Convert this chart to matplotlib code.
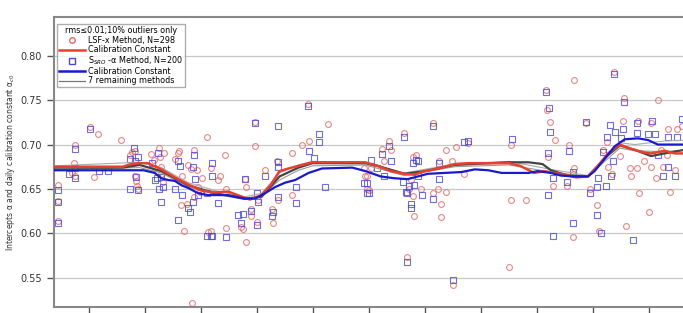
import matplotlib.pyplot as plt
from matplotlib.lines import Line2D

# LSF-x method intercepts (red circles)
lsf_x = [0.02, 0.15, 0.56, -0.25, -0.56, -0.56, -0.56, -0.27, -0.25, 0.09, -0.30,
         0.72, 0.77, 0.81, 0.82, 0.84, 0.86, 0.88,
         1.11, 1.15, 1.17, 1.24, 1.26, 1.29, 1.28, 1.32, 1.34,
         1.53, 1.58, 1.60, 1.64, 1.66, 1.70, 1.74, 1.77, 1.82, 1.87, 1.92, 1.88, 1.95, 2.01,
         2.10, 1.83, 2.12, 1.98,
         2.18, 2.18, 2.30, 2.33, 2.42, 2.45, 2.45, 2.72, 2.75, 2.78, 2.81, 2.81, 2.89, 2.89,
         2.96, 2.96, 2.99, 3.02, 3.14, 3.27, 3.29, 3.35, 3.38, 3.62, 3.62, 3.80, 3.92, 3.91,
         4.27, 4.91, 4.93, 5.00,
         4.97, 4.97, 5.03, 5.24, 5.26, 5.36, 5.39, 5.63, 5.68, 5.72, 5.75, 5.78, 5.79, 5.81,
         5.84, 5.93, 6.14, 6.14, 6.23, 6.25, 6.28, 6.28, 6.38, 6.38, 6.49, 6.50, 6.56, 6.70,
         6.77, 7.50, 7.54, 7.54, 7.81,
         8.16, 8.18, 8.23, 8.20, 8.32, 8.29, 8.58, 8.53, 8.65, 8.67, 8.67, 8.88, 8.95, 9.07,
         9.11, 9.18, 9.26, 9.27, 9.34, 9.38, 9.48, 9.53, 9.56, 9.60, 9.66, 9.68, 9.78, 9.80,
         9.82, 9.92, 10.01, 10.04, 10.04, 10.12, 10.16, 10.22, 10.25, 10.33, 10.34, 10.37,
         10.47, 10.50, 10.59, 10.68, 8.65]
lsf_y = [0.720, 0.712, 0.705, 0.700, 0.654, 0.636, 0.614, 0.679, 0.665, 0.663, 0.668,
         0.688, 0.692, 0.693, 0.664, 0.659, 0.653, 0.650,
         0.689, 0.683, 0.673, 0.696, 0.686, 0.675, 0.667, 0.658, 0.690,
         0.684, 0.690, 0.693, 0.632, 0.665, 0.603, 0.633, 0.677, 0.672, 0.694, 0.671, 0.641, 0.652, 0.662,
         0.709, 0.521, 0.601, 0.647,
         0.674, 0.602, 0.660, 0.664, 0.688, 0.650, 0.606, 0.607, 0.605, 0.661, 0.652, 0.590, 0.627, 0.619,
         0.726, 0.698, 0.613, 0.637, 0.671, 0.627, 0.611, 0.682, 0.638, 0.691, 0.643, 0.699, 0.704, 0.746,
         0.723, 0.674, 0.665, 0.649,
         0.665, 0.650, 0.673, 0.695, 0.682, 0.704, 0.694, 0.713, 0.573, 0.650, 0.660, 0.686, 0.642, 0.619,
         0.688, 0.650, 0.724, 0.645, 0.650, 0.682, 0.633, 0.618, 0.647, 0.694, 0.682, 0.542, 0.697, 0.667,
         0.702, 0.562, 0.637, 0.699, 0.638,
         0.761, 0.739, 0.726, 0.686, 0.705, 0.653, 0.700, 0.653, 0.596, 0.773, 0.673, 0.724, 0.650, 0.632,
         0.603, 0.694, 0.703, 0.675, 0.667, 0.782, 0.687, 0.727, 0.752, 0.608, 0.673, 0.664, 0.673, 0.727,
         0.645, 0.682, 0.624, 0.675, 0.724, 0.662, 0.750, 0.694, 0.675, 0.688, 0.718, 0.647,
         0.671, 0.718, 0.721, 0.667, 0.667]

# S_SRO-alpha method intercepts (blue squares)
sro_x = [0.02, -0.25, -0.56, -0.56, -0.56, -0.37, -0.25, -0.25, 0.18, 0.33,
         0.72, 0.73, 0.80, 0.81, 0.83, 0.87, 0.88,
         1.12, 1.17, 1.21, 1.23, 1.24, 1.29, 1.29, 1.32,
         1.53, 1.59, 1.62, 1.65, 1.58, 1.77, 1.80, 1.86, 1.86, 1.88, 1.89,
         2.10, 2.19, 2.19, 2.19, 1.95, 2.10,
         2.18, 2.30, 2.45, 2.66, 2.75, 2.72, 2.78, 2.89, 2.99, 3.02, 2.96, 2.99, 3.14, 3.27,
         3.29, 3.37, 3.37, 3.38, 3.38, 3.69, 3.69, 3.91, 3.92, 4.01, 4.10, 4.10, 4.21, 4.91,
         5.00, 5.03,
         4.97, 4.97, 5.15, 5.24, 5.26, 5.36, 5.39, 5.60, 5.63, 5.66, 5.68, 5.72, 5.75, 5.75,
         5.78, 5.81, 5.84, 5.87, 5.87, 5.95, 6.14, 6.14, 6.25, 6.25, 6.50, 6.70, 6.77, 7.55,
         5.68,
         8.16, 8.22, 8.23, 8.20, 8.20, 8.29, 8.29, 8.53, 8.58, 8.65, 8.65, 8.88, 8.95, 9.07,
         9.07, 9.09, 9.14, 9.18, 9.24, 9.26, 9.30, 9.32, 9.36, 9.40, 9.38, 9.51, 9.54, 9.56,
         9.72, 9.78, 9.79, 9.98, 10.06, 10.11, 10.16, 10.25, 10.34, 10.35, 10.47, 10.50, 10.59]
sro_y = [0.718, 0.695, 0.649, 0.635, 0.612, 0.667, 0.674, 0.662, 0.670, 0.670,
         0.684, 0.650, 0.696, 0.682, 0.663, 0.649, 0.686,
         0.679, 0.660, 0.662, 0.691, 0.650, 0.635, 0.663, 0.652,
         0.650, 0.682, 0.676, 0.643, 0.615, 0.628, 0.624, 0.635, 0.675, 0.688, 0.661,
         0.597, 0.597, 0.679, 0.665, 0.643, 0.645,
         0.597, 0.634, 0.596, 0.620, 0.622, 0.611, 0.661, 0.625, 0.609, 0.635, 0.724, 0.645, 0.665, 0.619,
         0.624, 0.721, 0.680, 0.675, 0.641, 0.652, 0.634, 0.744, 0.693, 0.685, 0.712, 0.703, 0.652, 0.657,
         0.645, 0.683,
         0.657, 0.645, 0.673, 0.689, 0.665, 0.698, 0.682, 0.658, 0.709, 0.647, 0.645, 0.653, 0.633, 0.628,
         0.679, 0.654, 0.683, 0.682, 0.664, 0.643, 0.721, 0.639, 0.661, 0.679, 0.547, 0.703, 0.704, 0.706,
         0.568,
         0.759, 0.741, 0.714, 0.691, 0.643, 0.662, 0.597, 0.658, 0.693, 0.612, 0.669, 0.726, 0.645, 0.652,
         0.620, 0.662, 0.600, 0.692, 0.653, 0.709, 0.722, 0.664, 0.682, 0.714, 0.780, 0.707, 0.717, 0.748,
         0.592, 0.724, 0.713, 0.712, 0.727, 0.712, 0.688, 0.665, 0.709, 0.675, 0.665, 0.708, 0.729]

# calibration constants
red_x = [-0.63, 0.6, 0.75, 0.9, 1.05, 1.29, 1.53, 1.77, 2.01, 2.25, 2.48, 2.78, 2.87, 3.08, 3.25,
         3.40, 3.56, 3.74, 3.99, 4.22, 4.93, 5.04, 5.15, 5.39, 5.63, 5.81, 5.99, 6.17, 6.53, 6.77,
         7.5, 7.7, 7.95, 8.13, 8.4, 8.7, 8.91, 9.09, 9.27, 9.48, 9.69, 9.92, 10.04, 10.28, 10.47, 10.72]
red_y = [0.675, 0.675, 0.678, 0.679, 0.679, 0.672, 0.663, 0.655, 0.648, 0.646, 0.647, 0.640, 0.638, 0.643, 0.655,
         0.670, 0.673, 0.676, 0.680, 0.680, 0.680, 0.678, 0.676, 0.670, 0.667, 0.666, 0.670, 0.672, 0.678, 0.679,
         0.679, 0.676, 0.668, 0.670, 0.667, 0.663, 0.664, 0.676, 0.690, 0.700, 0.695, 0.691, 0.690, 0.693, 0.690, 0.690]

blue_x = [-0.63, 0.97, 1.17, 1.29, 1.41, 1.53, 1.65, 1.77, 1.95, 2.12, 2.48, 2.78, 2.96, 3.14, 3.32,
          3.50, 3.68, 3.92, 4.16, 4.70, 4.94, 5.21, 5.45, 5.69, 5.87, 6.05, 6.35, 6.65, 6.89, 7.13,
          7.37, 7.85, 8.01, 8.25, 8.43, 8.67, 8.91, 9.03, 9.21, 9.39, 9.57, 9.81, 9.99, 10.16, 10.72]
blue_y = [0.671, 0.671, 0.668, 0.662, 0.660, 0.659, 0.654, 0.651, 0.645, 0.643, 0.643, 0.639, 0.639, 0.645, 0.652,
          0.657, 0.660, 0.668, 0.673, 0.674, 0.670, 0.664, 0.662, 0.661, 0.664, 0.667, 0.668, 0.669, 0.672, 0.671,
          0.668, 0.668, 0.670, 0.668, 0.665, 0.664, 0.664, 0.670, 0.684, 0.698, 0.706, 0.707, 0.705, 0.700, 0.700]

# remaining methods
dark_x = [-0.63, 0.6, 0.9, 1.29, 1.77, 2.25, 2.78, 3.08, 3.40, 3.74, 3.99, 4.93, 5.15, 5.63, 5.99,
          6.53, 7.5, 7.85, 8.1, 8.25, 8.55, 8.91, 9.27, 9.48, 9.75, 10.04, 10.28, 10.72]
dark_y = [0.674, 0.674, 0.677, 0.670, 0.654, 0.645, 0.639, 0.641, 0.664, 0.674, 0.679, 0.679, 0.676, 0.667, 0.670,
          0.677, 0.680, 0.680, 0.678, 0.671, 0.665, 0.664, 0.688, 0.699, 0.694, 0.687, 0.690, 0.695]
gray_x = [-0.63, 0.9, 1.29, 1.77, 2.25, 2.78, 3.08, 3.40, 3.74, 3.99, 4.93, 5.63, 6.53, 7.5, 8.25,
          8.91, 9.48, 9.75, 10.28, 10.72]
gray1_y = [0.676, 0.680, 0.674, 0.657, 0.648, 0.641, 0.645, 0.668, 0.677, 0.681, 0.680, 0.668, 0.678, 0.681, 0.672,
           0.665, 0.702, 0.700, 0.704, 0.705]
gray2_y = [0.672, 0.674, 0.668, 0.652, 0.644, 0.638, 0.642, 0.660, 0.671, 0.676, 0.677, 0.665, 0.675, 0.677, 0.669,
           0.664, 0.696, 0.693, 0.692, 0.694]

fig = plt.figure(figsize=(6.83, 3.13), dpi=100)
ax = fig.add_axes([0.079, 0.019, 0.93, 0.927])

ax.plot(lsf_x, lsf_y, 'o', mfc='none', mec='#e06a6a', mew=0.8, ms=4.2, alpha=0.8, zorder=2)
ax.plot(sro_x, sro_y, 's', mfc='none', mec='#4b4bd0', mew=0.8, ms=4.0, alpha=0.8, zorder=2)

ax.plot(gray_x, gray1_y, color='#aaaaaa', lw=0.8, zorder=3)
ax.plot(gray_x, gray2_y, color='#999999', lw=0.8, zorder=3)
ax.plot(dark_x, dark_y, color='#444444', lw=1.6, zorder=3)
ax.plot(red_x, red_y, color='#e8402e', lw=1.8, zorder=4)
ax.plot(blue_x, blue_y, color='#1a1acc', lw=1.6, zorder=4)

ax.set_xlim(-0.63, 10.72)
ax.set_ylim(0.5167, 0.844)
ax.set_xticks(range(11))
ax.set_xticklabels([])
ax.set_yticks([0.55, 0.60, 0.65, 0.70, 0.75, 0.80])
ax.set_yticklabels(['0.55', '0.60', '0.65', '0.70', '0.75', '0.80'])
ax.yaxis.grid(True, color='#c8c8c8', lw=0.9)
ax.set_axisbelow(True)
ax.tick_params(direction='out', length=5, width=1, color='#555555', labelsize=7, labelcolor='#333333')
for s in ['left', 'top', 'bottom']:
    ax.spines[s].set_color('#888888')
    ax.spines[s].set_linewidth(1.5)
ax.spines['right'].set_visible(False)

ax.set_ylabel('Intercepts α and daily calibration constant α$_{c0}$', fontsize=5.5, color='#333333')
ax.yaxis.set_label_coords(-0.058, 0.5)

handles = [
    Line2D([], [], ls='none', marker='o', mfc='none', mec='#e06a6a', ms=4),
    Line2D([], [], color='#e8402e', lw=1.8),
    Line2D([], [], ls='none', marker='s', mfc='none', mec='#4b4bd0', ms=4),
    Line2D([], [], color='#1a1acc', lw=1.8),
    Line2D([], [], color='#777777', lw=0.9),
]
labels = ['LSF-x Method, N=298', 'Calibration Constant',
          'S$_{SRO}$ -α Method, N=200', 'Calibration Constant', '7 remaining methods']
leg = ax.legend(handles, labels, title='rms≤0.01;10% outliers only', loc='upper left',
                fontsize=5.8, title_fontsize=5.8, frameon=True, fancybox=False,
                borderpad=0.2, labelspacing=0.02, handlelength=3.2, handletextpad=0.4,
                bbox_to_anchor=(0.003, 0.98), borderaxespad=0.2)
leg._legend_box.sep = 1
leg.get_frame().set_edgecolor('#999999')
leg.get_frame().set_linewidth(1.0)

fig.savefig('out.png', dpi=100)
